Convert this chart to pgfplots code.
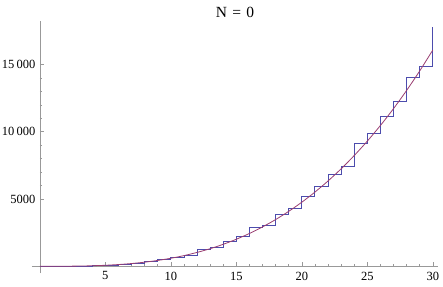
\documentclass[border=0pt]{standalone}
\usepackage{fontspec}
\setmainfont{Liberation Serif}
\usepackage{pgfplots}
\pgfplotsset{compat=1.18}

\definecolor{stepblue}{rgb}{0.3,0.3,0.68}
\definecolor{curvered}{rgb}{0.6,0.24,0.442}

\begin{document}
\begin{tikzpicture}
	\begin{axis}[
		scale only axis,
		width=406pt, height=252pt,
		axis lines=middle,
		axis line style={-, draw=gray!80},
		xmin=-0.6, xmax=30.4,
		ymin=-500, ymax=18225,
		scaled y ticks=false,
		xtick={5,10,15,20,25,30},
		xticklabels={5,10,15,20,25,30},
		ytick={5000,10000,15000},
		yticklabels={5000,10\,000,15\,000},
		minor x tick num=4,
		minor y tick num=4,
		tick align=inside,
		major tick length=4.5pt,
		minor tick length=2.5pt,
		tick style={gray!80, line width=0.5pt},
		ticklabel style={font=\fontsize{12.5}{13}\selectfont},
		xticklabel style={anchor=north, yshift=-2pt},
		yticklabel style={anchor=east, xshift=-1pt},
		title={N\,\,=\,\,0},
		title style={at={(0.5,1)}, anchor=base, yshift=-3pt, font=\fontsize{15.5}{16}\selectfont},
		clip=false,
		]
		% step function
		\addplot[const plot, color=stepblue, line width=0.8pt] coordinates {
(0,0) (1,1) (2,8) (3,21) (4,52) (5,85) (6,165) (7,225) (8,350) (9,480)
(10,680) (11,845) (12,1250) (13,1434) (14,1857) (15,2251) (16,2900) (17,3016)
(18,3863) (19,4309) (20,5171) (21,5914) (22,6857) (23,7400) (24,9138)
(25,9881) (26,11150) (27,12281) (28,14042) (29,14881) (30,17756)
		};
		% smooth main term
		\addplot[smooth, color=curvered, line width=0.8pt] coordinates {
(0,0) (1,0.6) (2,4.8) (3,16.1) (4,38.1) (5,74.4) (6,128.5) (7,204.1)
(8,304.6) (9,433.8) (10,595) (11,791.9) (12,1028.2) (13,1307.2) (14,1632.7)
(15,2008.1) (16,2437.1) (17,2923.2) (18,3470) (19,4081.1) (20,4760)
(21,5510.3) (22,6335.6) (23,7239.4) (24,8225.3) (25,9296.9) (26,10457.7)
(27,11711.4) (28,13061.4) (29,14511.7) (30,16065)
		};
	\end{axis}
	\pgfresetboundingbox
	\path[use as bounding box] ([xshift=-32pt,yshift=-13pt]current axis.south west) rectangle ([xshift=5pt,yshift=21pt]current axis.north east);
\end{tikzpicture}
\end{document}
